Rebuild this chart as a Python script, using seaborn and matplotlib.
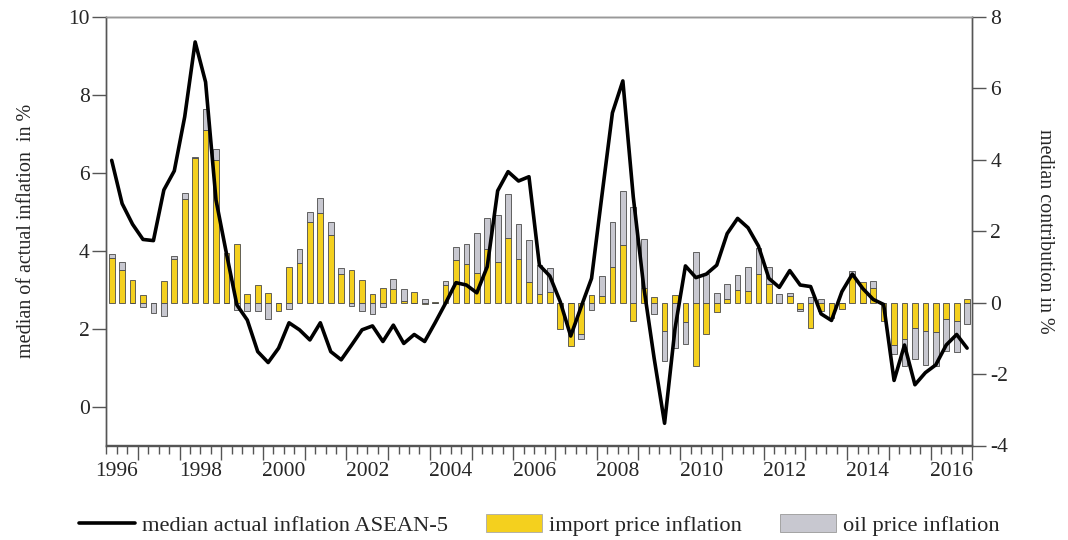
import numpy as np
import pandas as pd
import matplotlib
matplotlib.use("Agg")
import matplotlib.pyplot as plt
from matplotlib.ticker import FixedLocator, FixedFormatter
from matplotlib.patches import Patch
from matplotlib.lines import Line2D
import seaborn as sns

# ---------------- data (quarterly, 1996Q2 .. 2016Q4) ----------------
start_year = 1996.25
n_quarters = 83

actual_inflation = [
    6.32, 5.21, 4.68, 4.29, 4.26, 5.56, 6.05, 7.44, 9.36, 8.33, 5.30, 3.93, 2.61, 2.22,
    1.41, 1.13, 1.50, 2.15, 1.97, 1.71, 2.15, 1.41, 1.20, 1.58, 1.97, 2.07, 1.67,
    2.09, 1.62, 1.85, 1.67, 2.15, 2.65, 3.18, 3.12, 2.92, 3.59, 5.54, 6.03, 5.79, 5.90,
    3.63, 3.35, 2.69, 1.81, 2.56, 3.29, 5.43, 7.54, 8.36, 5.38, 3.08, 1.24, -0.43,
    2.00, 3.61, 3.31, 3.40, 3.63, 4.44, 4.83, 4.59, 4.12, 3.29, 3.06, 3.49, 3.12, 3.08,
    2.38, 2.21, 2.95, 3.40, 3.03, 2.75, 2.62, 0.67, 1.58, 0.56, 0.87, 1.07, 1.58, 1.85, 1.50,
]

import_contrib = [
    1.26, 0.92, 0.63, 0.21, 0.00, 0.61, 1.23, 2.90, 4.04, 4.83, 4.00, 1.40, 1.65, 0.25,
    0.50, 0.28, -0.23, 1.00, 1.12, 2.26, 2.50, 1.89, 0.79, 0.91, 0.63, 0.25, 0.41,
    0.39, 0.05, 0.30, -0.05, 0.02, 0.49, 1.19, 1.09, 0.82, 1.51, 1.15, 1.82, 1.23, 0.58,
    0.23, 0.31, -0.73, -1.20, -0.89, 0.21, 0.19, 1.00, 1.62, -0.50, 0.40, 0.16, -0.78,
    0.21, -0.54, -1.76, -0.87, -0.26, 0.11, 0.35, 0.33, 0.81, 0.53, 0.00, 0.19, -0.19, -0.70,
    -0.23, -0.42, -0.17, 0.81, 0.58, 0.40, -0.51, -1.19, -1.01, -0.70, -0.79, -0.82, -0.45, -0.50, 0.09,
]

oil_contrib = [
    0.09, 0.22, 0.00, -0.11, -0.28, -0.36, 0.09, 0.16, 0.03, 0.59, 0.30, 0.00, -0.21, -0.23,
    -0.23, -0.47, 0.00, -0.17, 0.37, 0.29, 0.43, 0.36, 0.17, -0.09, -0.23, -0.33, -0.13,
    0.28, 0.33, 0.00, 0.10, 0.00, 0.12, 0.36, 0.54, 1.14, 0.85, 1.30, 1.21, 0.98, 1.18,
    0.82, 0.67, 0.00, 0.00, -0.12, -0.21, 0.56, 1.27, 1.51, 2.69, 1.38, -0.31, -0.86,
    -1.26, -0.61, 1.43, 0.79, 0.28, 0.40, 0.42, 0.67, 0.73, 0.48, 0.25, 0.09, -0.03, 0.16,
    0.11, 0.00, 0.00, 0.07, 0.00, 0.22, 0.00, -0.24, -0.75, -0.87, -0.96, -0.95, -0.91, -0.88, -0.59,
]

year_labels = [1996, 1998, 2000, 2002, 2004, 2006, 2008, 2010, 2012, 2014, 2016]
left_ticks = [0, 2, 4, 6, 8, 10]
right_ticks = [-4, -2, 0, 2, 4, 6, 8]

# ---------------- frame ----------------
t = start_year + (np.arange(n_quarters) + 0.5) * 0.25
df = pd.DataFrame({
    "t": t,
    "actual": actual_inflation,
    "imp": import_contrib,
    "oil": oil_contrib,
})
same_sign = np.sign(df["imp"]) * np.sign(df["oil"]) > 0
df["oil_bottom"] = np.where(same_sign, df["imp"], 0.0)

sns.set_theme(style="ticks")
plt.rcParams["font.family"] = ["Liberation Serif", "DejaVu Serif"]
plt.rcParams["axes.unicode_minus"] = False

YELLOW = "#F4D01E"
GREY = "#C8C8D0"
EDGE = "#4a4a4a"
AXC = "#555555"

fig = plt.figure(figsize=(10.68, 5.4), dpi=100)
ax = fig.add_axes([0.0997, 0.175, 0.8107, 0.7935])
ax2 = ax.twinx()

bar_w = 0.137
ax2.bar(df["t"], df["imp"], width=bar_w, color=YELLOW, edgecolor=EDGE, linewidth=0.6)
ax2.bar(df["t"], df["oil"], bottom=df["oil_bottom"], width=bar_w, color=GREY,
        edgecolor=EDGE, linewidth=0.6)

sns.lineplot(data=df, x="t", y="actual", ax=ax, color="black", linewidth=2.6,
             legend=False)

ax.set_zorder(ax2.get_zorder() + 1)
ax.patch.set_visible(False)

ax.set_xlim(start_year, start_year + n_quarters * 0.25)
ax.set_ylim(-1, 10)
ax2.set_ylim(-4, 8)

ax.set_yticks(left_ticks)
ax2.set_yticks(right_ticks)

# x ticks: long ticks at year starts, short ticks every quarter, labels mid-year
years = np.arange(1997, 2018)
ax.xaxis.set_major_locator(FixedLocator(years))
ax.xaxis.set_major_formatter(FixedFormatter([""] * len(years)))
quarters = np.arange(1996.25, 2017.01, 0.25)
quarters = quarters[np.abs(quarters - np.round(quarters)) > 1e-6]
minor_labels = []
for q in quarters:
    lab = ""
    for yl in year_labels:
        if abs(q - (yl + 0.5)) < 1e-6:
            lab = str(yl)
    minor_labels.append(lab)
ax.xaxis.set_minor_locator(FixedLocator(quarters))
ax.xaxis.set_minor_formatter(FixedFormatter(minor_labels))

ax.tick_params(axis="x", which="major", length=10, width=1, color=AXC, direction="out")
ax.tick_params(axis="x", which="minor", length=6, width=1, color=AXC, direction="out",
               labelsize=15.5, pad=6)
ax.tick_params(axis="y", length=10, width=1, color=AXC, labelsize=15.5, pad=2)
ax2.tick_params(axis="y", length=10, width=1, color=AXC, labelsize=15.5, pad=3)
ax.set_xlabel("")
ax.set_ylabel("median of actual inflation  in %", fontsize=14.5, labelpad=23)
ax2.set_ylabel("median contribution in %", fontsize=14.5, rotation=270, labelpad=33)

for a in (ax, ax2):
    for s in a.spines.values():
        s.set_visible(True)
        s.set_color(AXC)
        s.set_linewidth(1.0)
ax.spines["top"].set_color("#999999")

handles = [
    Line2D([0], [0], color="black", linewidth=2.6),
    Patch(facecolor=YELLOW, edgecolor="#aaaaaa", linewidth=0.6),
    Patch(facecolor=GREY, edgecolor="#999999", linewidth=0.6),
]
labels = ["median actual inflation ASEAN-5", "import price inflation", "oil price inflation"]
fig.legend(handles, labels, loc="lower center", bbox_to_anchor=(0.505, -0.03), ncol=3,
           frameon=False, fontsize=16.2, handlelength=2.5, handleheight=0.85,
           columnspacing=1.7, handletextpad=0.3)

fig.savefig("out.png", dpi=100)
